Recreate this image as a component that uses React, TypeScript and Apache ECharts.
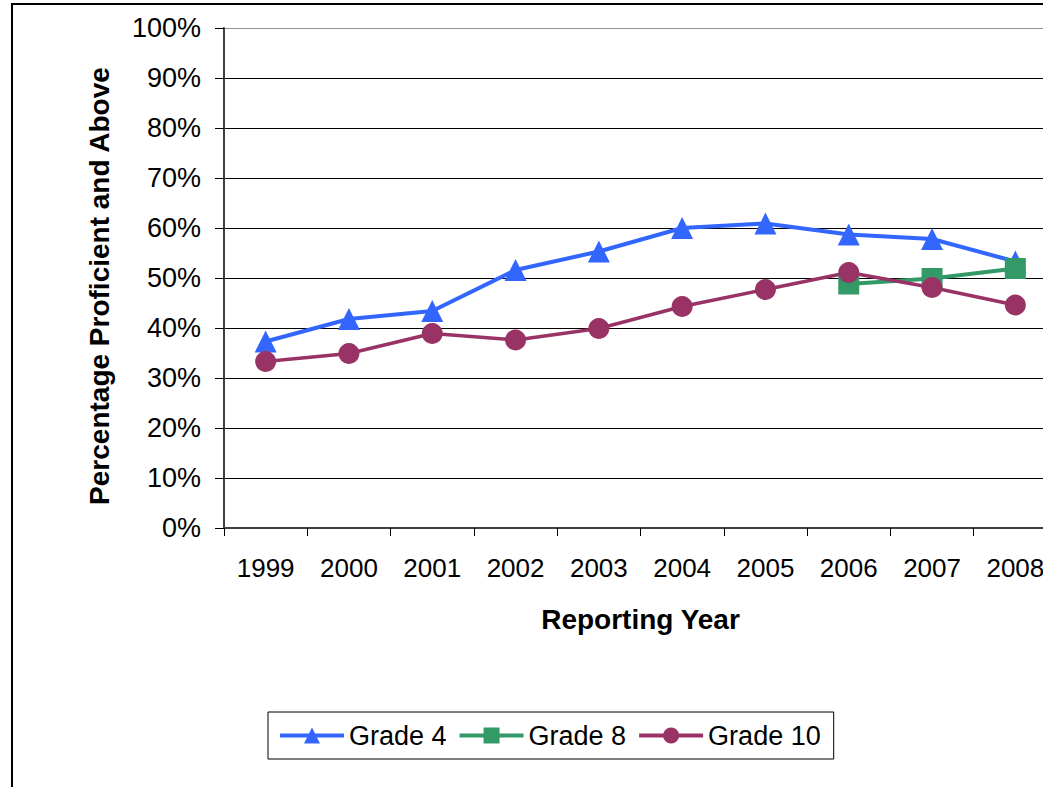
import React, { useEffect, useRef } from "react";
import * as echarts from "echarts";

const years = ["1999", "2000", "2001", "2002", "2003", "2004", "2005", "2006", "2007", "2008"];
const grade4 = [37.3, 41.8, 43.4, 51.6, 55.3, 60.0, 60.9, 58.7, 57.8, 53.3];
const grade8 = [null, null, null, null, null, null, null, 48.8, 49.9, 51.9];
const grade10 = [33.3, 34.9, 38.9, 37.6, 39.9, 44.3, 47.7, 51.1, 48.1, 44.6];
const seriesNames = ["Grade 4", "Grade 8", "Grade 10"];
const xTitle = "Reporting Year";
const yTitle = "Percentage Proficient and Above";

const FONT = "'Liberation Sans', Arial, Helvetica, sans-serif";

export default function App() {
  const ref = useRef<HTMLDivElement>(null);
  useEffect(() => {
    if (!ref.current) return;
    const chart = echarts.init(ref.current, null, { renderer: "svg" });
    const splitColors = new Array(10).fill("#000000");
    splitColors.push("#909090");
    chart.setOption({
      animation: false,
      backgroundColor: "#ffffff",
      textStyle: { fontFamily: FONT },
      grid: { left: 224, top: 28, width: 833, height: 500, containLabel: false },
      graphic: [
        {
          type: "rect",
          shape: { x: 12, y: 4, width: 1200, height: 1000 },
          style: { fill: "none", stroke: "#000000", lineWidth: 2 },
          silent: true,
        },
        {
          type: "text",
          x: 99,
          y: 286,
          rotation: Math.PI / 2,
          style: {
            text: yTitle,
            fontFamily: FONT,
            fontSize: 28,
            fontWeight: "bold",
            fill: "#000000",
            align: "center",
            verticalAlign: "middle",
          },
        },
      ],
      legend: {
        left: 268,
        top: 712,
        orient: "horizontal",
        data: seriesNames,
        itemWidth: 64,
        itemHeight: 20,
        itemGap: 11,
        padding: [10, 13, 10, 10],
        borderColor: "#000000",
        borderWidth: 1,
        lineStyle: { width: 4 },
        textStyle: { fontFamily: FONT, fontSize: 27, color: "#000000" },
      },
      xAxis: {
        type: "category",
        data: years,
        boundaryGap: true,
        name: xTitle,
        nameLocation: "middle",
        nameGap: 77,
        nameTextStyle: { fontFamily: FONT, fontSize: 28, fontWeight: "bold", color: "#000000" },
        axisLine: { lineStyle: { color: "#404040", width: 2 } },
        axisTick: { show: true, alignWithLabel: false, length: 8, lineStyle: { color: "#000000", width: 1 } },
        axisLabel: { fontFamily: FONT, fontSize: 26, color: "#000000", margin: 27, interval: 0 },
        splitLine: { show: false },
      },
      yAxis: {
        type: "value",
        min: 0,
        max: 100,
        interval: 10,
        axisLine: { show: true, lineStyle: { color: "#404040", width: 2 } },
        axisTick: { show: true, length: 9, lineStyle: { color: "#000000", width: 1 } },
        axisLabel: { fontFamily: FONT, fontSize: 27, color: "#000000", margin: 23, formatter: "{value}%" },
        splitLine: { show: true, lineStyle: { color: splitColors, width: 1 } },
      },
      series: [
        {
          name: seriesNames[0],
          type: "line",
          data: grade4,
          symbol: "triangle",
          symbolSize: 22,
          lineStyle: { color: "#3366FF", width: 4 },
          itemStyle: { color: "#3366FF" },
        },
        {
          name: seriesNames[1],
          type: "line",
          data: grade8,
          symbol: "rect",
          symbolSize: 21,
          connectNulls: false,
          lineStyle: { color: "#339966", width: 4 },
          itemStyle: { color: "#339966" },
        },
        {
          name: seriesNames[2],
          type: "line",
          data: grade10,
          symbol: "circle",
          symbolSize: 21,
          lineStyle: { color: "#993366", width: 3.5 },
          itemStyle: { color: "#993366" },
        },
      ],
    });
    return () => chart.dispose();
  }, []);
  return (
    <div
      style={{ position: "fixed", left: 0, top: 0, width: 1043, height: 787, overflow: "hidden", background: "#fff" }}
    >
      <div ref={ref} style={{ width: 1060, height: 787 }} />
    </div>
  );
}
